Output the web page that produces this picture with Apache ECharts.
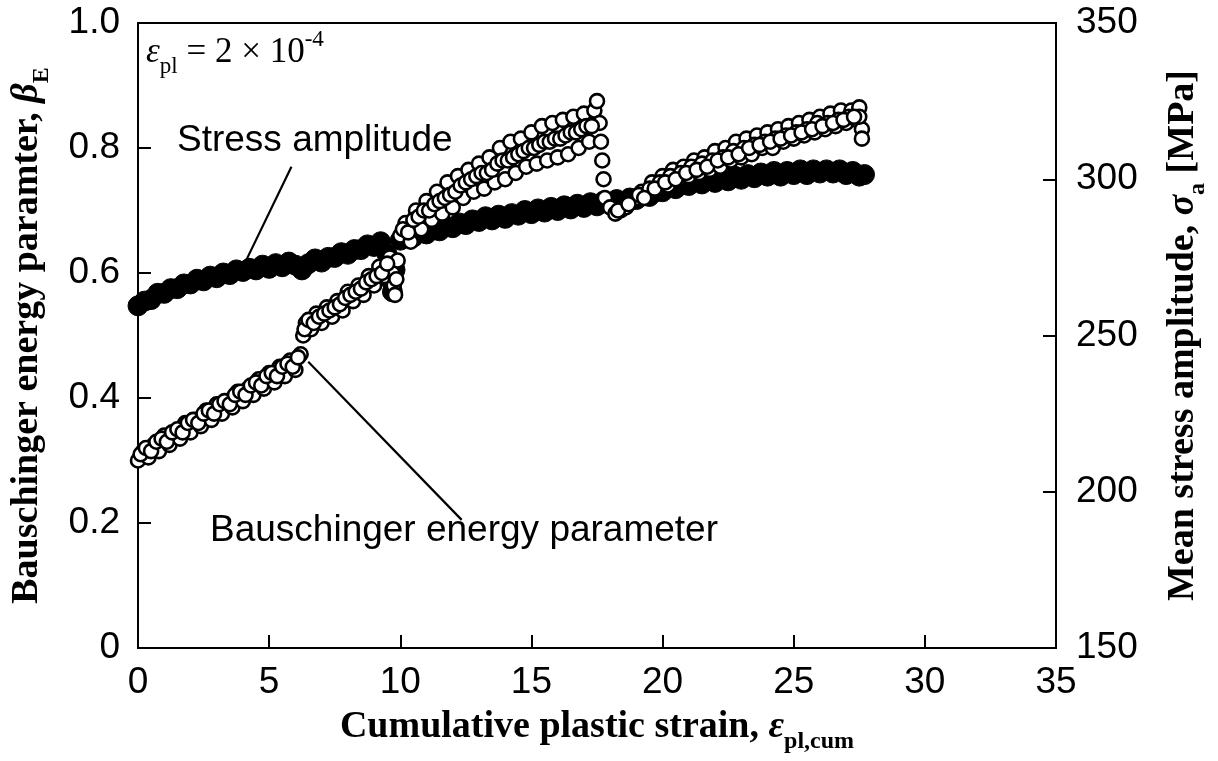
<!DOCTYPE html>
<html>
<head>
<meta charset="utf-8">
<script src="https://cdn.jsdelivr.net/npm/echarts@6/dist/echarts.min.js"></script>
<style>
html,body{margin:0;padding:0;background:#fff;}
#c{width:1218px;height:761px;}
</style>
</head>
<body>
<div id="c"></div>
<script>
// ---- Data ----
const xTicks = [0, 5, 10, 15, 20, 25, 30, 35];
const leftTicks = [0, 0.2, 0.4, 0.6, 0.8, 1.0];
const rightTicks = [150, 200, 250, 300, 350];

// Bauschinger energy parameter (open circles, left axis)
const bauschStrain = [
  0.0,0.2,0.4,0.6,0.8,1.0,1.2,1.4,1.6,1.8,2.0,2.2,2.4,2.6,2.8,3.0,3.2,3.4,3.6,3.8,
  4.0,4.2,4.4,4.6,4.8,5.0,5.2,5.4,5.6,5.8,6.0,6.2,6.3,6.4,6.6,6.8,7.0,7.2,7.4,7.6,
  7.8,8.0,8.2,8.4,8.6,8.8,9.0,9.2,9.4,9.6,9.7,9.75,9.8,9.85,9.9,10.0,10.2,10.4,10.6,10.8,
  11.0,11.2,11.4,11.6,11.8,12.0,12.2,12.4,12.6,12.8,13.0,13.2,13.4,13.6,13.8,14.0,14.2,14.4,14.6,14.8,
  15.0,15.2,15.4,15.6,15.8,16.0,16.2,16.4,16.6,16.8,17.0,17.2,17.4,17.5,17.6,17.65,17.7,17.75,17.8,18.0,
  18.2,18.4,18.6,18.8,19.0,19.2,19.4,19.6,19.8,20.0,20.2,20.4,20.6,20.8,21.0,21.2,21.4,21.6,21.8,22.0,
  22.2,22.4,22.6,22.8,23.0,23.2,23.4,23.6,23.8,24.0,24.2,24.4,24.6,24.8,25.0,25.2,25.4,25.6,25.8,26.0,
  26.2,26.4,26.6,26.8,27.0,27.2,27.4,27.5,27.6,27.6,
  10.1,10.3,10.5,10.7,10.9,11.1,11.3,11.5,11.7,11.9,12.1,12.3,12.5,12.7,12.9,13.1,13.3,13.5,13.7,13.9,
  14.1,14.3,14.5,14.7,14.9,15.1,15.3,15.5,15.7,15.9,16.1,16.3,16.5,16.7,16.9,17.1,17.3,
  19.1,19.5,19.9,20.3,20.7,21.1,21.5,21.9,22.3,22.7,23.1,23.5,23.9,24.3,24.7,25.1,25.5,25.9,26.3,26.7,
  27.1,27.5,
  0.1,0.3,0.5,0.7,0.9,1.1,1.3,1.5,1.7,1.9,2.1,2.3,2.5,2.7,2.9,3.1,3.3,3.5,3.7,3.9,
  4.1,4.3,4.5,4.7,4.9,5.1,5.3,5.5,5.7,5.9,6.1,6.35,6.5,6.7,6.9,7.1,7.3,7.5,7.7,7.9,
  8.1,8.3,8.5,8.7,8.9,9.1,9.3,9.5,
  18.3,18.7,19.3,19.7,20.1,20.5,20.9,21.3,21.7,22.1,22.5,22.9,23.3,23.7,24.1,24.5,24.9,25.3,25.7,26.1,
  26.5,26.9,27.3
];
const bauschBeta = [
  0.300,0.315,0.305,0.325,0.315,0.340,0.325,0.345,0.335,0.360,0.345,0.365,0.355,0.380,0.365,0.390,0.375,0.395,0.385,0.410,
  0.395,0.415,0.405,0.430,0.415,0.440,0.425,0.450,0.435,0.460,0.445,0.470,0.500,0.520,0.510,0.535,0.520,0.545,0.530,0.555,
  0.540,0.570,0.555,0.580,0.565,0.595,0.580,0.610,0.595,0.625,0.600,0.580,0.565,0.590,0.620,0.660,0.680,0.650,0.700,0.670,
  0.715,0.685,0.730,0.695,0.745,0.705,0.755,0.720,0.765,0.730,0.775,0.735,0.785,0.745,0.800,0.750,0.810,0.760,0.815,0.770,
  0.825,0.775,0.835,0.780,0.840,0.785,0.845,0.790,0.850,0.800,0.855,0.810,0.860,0.875,0.840,0.810,0.780,0.750,0.720,0.705,
  0.695,0.700,0.705,0.715,0.720,0.730,0.725,0.745,0.735,0.755,0.740,0.765,0.750,0.770,0.755,0.780,0.760,0.785,0.765,0.795,
  0.770,0.800,0.780,0.810,0.785,0.815,0.790,0.820,0.800,0.825,0.800,0.830,0.810,0.835,0.815,0.840,0.820,0.845,0.825,0.850,
  0.830,0.855,0.835,0.860,0.840,0.860,0.845,0.865,0.830,0.815,
  0.670,0.665,0.685,0.690,0.700,0.700,0.710,0.715,0.720,0.725,0.730,0.740,0.745,0.750,0.755,0.760,0.760,0.765,0.775,0.780,
  0.780,0.785,0.790,0.795,0.800,0.800,0.805,0.810,0.810,0.815,0.815,0.820,0.825,0.825,0.830,0.835,0.835,
  0.725,0.735,0.745,0.755,0.760,0.770,0.775,0.780,0.785,0.795,0.800,0.805,0.810,0.815,0.820,0.825,0.830,0.840,0.840,0.845,
  0.850,0.850,
  0.310,0.320,0.315,0.330,0.335,0.330,0.345,0.350,0.345,0.360,0.365,0.360,0.375,0.380,0.375,0.390,0.395,0.390,0.405,0.410,
  0.405,0.420,0.425,0.420,0.435,0.440,0.435,0.450,0.455,0.450,0.465,0.510,0.525,0.520,0.530,0.535,0.540,0.545,0.550,0.560,
  0.565,0.570,0.575,0.585,0.590,0.595,0.600,0.615,
  0.700,0.710,0.720,0.735,0.745,0.750,0.760,0.765,0.770,0.780,0.785,0.790,0.800,0.805,0.810,0.815,0.820,0.825,0.830,0.835,
  0.840,0.845,0.850
];

// Mean stress amplitude (filled circles, right axis, MPa)
const stressStrain = [
  0.0,0.25,0.5,0.75,1.0,1.25,1.5,1.75,2.0,2.25,2.5,2.75,3.0,3.25,3.5,3.75,4.0,4.25,4.5,4.75,
  5.0,5.25,5.5,5.75,6.0,6.25,6.5,6.75,7.0,7.25,7.5,7.75,8.0,8.25,8.5,8.75,9.0,9.25,9.5,9.6,
  9.7,9.8,10.0,10.25,10.5,10.75,11.0,11.25,11.5,11.75,12.0,12.25,12.5,12.75,13.0,13.25,13.5,13.75,14.0,14.25,
  14.5,14.75,15.0,15.25,15.5,15.75,16.0,16.25,16.5,16.75,17.0,17.25,17.5,17.75,18.0,18.25,18.5,18.75,19.0,19.25,
  19.5,19.75,20.0,20.25,20.5,20.75,21.0,21.25,21.5,21.75,22.0,22.25,22.5,22.75,23.0,23.25,23.5,23.75,24.0,24.25,
  24.5,24.75,25.0,25.25,25.5,25.75,26.0,26.25,26.5,26.75,27.0,27.25,27.5,27.7
];
const stressAmp = [
  259.5,261.0,261.5,263.5,263.5,265.0,265.0,266.5,266.5,268.0,267.5,269.0,268.5,270.0,269.5,271.0,270.5,271.5,271.0,272.5,
  271.5,273.0,272.0,273.5,272.5,271.0,273.0,274.5,273.5,275.0,275.0,276.5,276.0,277.5,277.5,279.0,278.5,280.0,276.0,268.0,
  264.0,271.0,280.5,282.0,281.5,283.0,282.5,284.0,283.5,285.0,284.5,286.0,285.5,287.0,286.5,288.0,287.0,288.5,287.5,289.0,
  288.5,290.0,289.0,290.5,289.5,291.0,290.0,291.5,290.5,292.0,291.0,292.5,291.5,293.0,292.0,293.5,292.5,294.0,293.5,295.0,
  294.5,296.0,296.0,297.5,297.0,298.5,298.0,299.5,298.5,300.0,299.0,300.5,299.5,301.0,300.0,301.5,300.5,302.0,301.0,302.5,
  301.0,302.5,301.5,303.0,301.5,303.0,302.0,303.0,302.0,303.0,301.5,302.5,301.0,301.5
];

// Annotation leader lines (data coordinates, left axis)
const stressLeader = [[5.85, 0.77], [4.04, 0.613]];
const bauschLeader = [[6.49, 0.458], [12.34, 0.205]];

const bauschData = bauschStrain.map((x, i) => [x, bauschBeta[i]]);
const stressData = stressStrain.map((x, i) => [x, stressAmp[i]]);

const sans = '"Liberation Sans", Arial, sans-serif';
const serif = '"Liberation Serif", "Times New Roman", serif';

function titleRich(size) {
  return {
    t: {fontFamily: serif, fontWeight: 'bold', fontSize: size, color: '#000', lineHeight: 54},
    i: {fontFamily: serif, fontWeight: 'bold', fontStyle: 'italic', fontSize: size, color: '#000', lineHeight: 54},
    s: {fontFamily: serif, fontWeight: 'bold', fontSize: Math.round(size * 0.62), color: '#000', lineHeight: 26, verticalAlign: 'bottom'}
  };
}

const chart = echarts.init(document.getElementById('c'), null, {renderer: 'canvas'});
chart.setOption({
  animation: false,
  backgroundColor: '#fff',
  grid: {left: 135, right: 155, top: 23, bottom: 113, show: true, borderColor: '#000', borderWidth: 2, backgroundColor: 'transparent'},
  xAxis: {
    type: 'value', min: xTicks[0], max: xTicks[xTicks.length - 1], interval: 5,
    axisLine: {show: true, lineStyle: {color: '#000', width: 2}},
    axisTick: {show: true, inside: true, length: 13, lineStyle: {color: '#000', width: 2}},
    axisLabel: {color: '#000', fontSize: 37, fontFamily: sans, margin: 16},
    splitLine: {show: false},
    name: '{t|Cumulative plastic strain, }{i|ε}{s|pl,cum}',
    nameLocation: 'middle', nameGap: 52,
    nameTextStyle: {rich: titleRich(38)}
  },
  yAxis: [{
    type: 'value', min: leftTicks[0], max: leftTicks[leftTicks.length - 1], interval: 0.2, position: 'left',
    axisLine: {show: true, lineStyle: {color: '#000', width: 2}},
    axisTick: {show: true, inside: true, length: 13, lineStyle: {color: '#000', width: 2}},
    axisLabel: {color: '#000', fontSize: 37, fontFamily: sans, margin: 18,
      formatter: v => (v === 0 ? '0' : v.toFixed(1))},
    splitLine: {show: false},
    name: '{t|Bauschinger energy paramter, }{i|β}{s|E}',
    nameLocation: 'middle', nameRotate: 90, nameGap: 84,
    nameTextStyle: {rich: titleRich(38)}
  }, {
    type: 'value', min: rightTicks[0], max: rightTicks[rightTicks.length - 1], interval: 50, position: 'right',
    axisLine: {show: true, lineStyle: {color: '#000', width: 2}},
    axisTick: {show: true, inside: true, length: 13, lineStyle: {color: '#000', width: 2}},
    axisLabel: {color: '#000', fontSize: 37, fontFamily: sans, margin: 20},
    splitLine: {show: false},
    name: '{t|Mean stress amplitude, }{i|σ}{s|a}{t| [MPa]}',
    nameLocation: 'middle', nameRotate: 90, nameGap: 100,
    nameTextStyle: {rich: titleRich(38)}
  }],
  series: [{
    name: 'Stress amplitude', type: 'scatter', yAxisIndex: 1, z: 2,
    symbol: 'circle', symbolSize: 20,
    itemStyle: {color: '#000', borderColor: '#000', borderWidth: 1, opacity: 1},
    data: stressData
  }, {
    name: 'Bauschinger energy parameter', type: 'scatter', yAxisIndex: 0, z: 3,
    symbol: 'circle', symbolSize: 14,
    itemStyle: {color: '#fff', borderColor: '#000', borderWidth: 2.6, opacity: 1},
    data: bauschData,
    markLine: {
      silent: true, symbol: ['none', 'none'], animation: false,
      label: {show: false},
      lineStyle: {color: '#000', width: 2.2, type: 'solid', opacity: 1},
      data: [
        [{coord: stressLeader[0]}, {coord: stressLeader[1]}],
        [{coord: bauschLeader[0]}, {coord: bauschLeader[1]}]
      ]
    }
  }],
  graphic: [{
    type: 'text', left: 177, top: 122,
    style: {text: 'Stress amplitude', font: '37px ' + sans, fill: '#000'}
  }, {
    type: 'text', left: 210, top: 512,
    style: {text: 'Bauschinger energy parameter', font: '37px ' + sans, fill: '#000'}
  }, {
    type: 'text', left: 146, top: 28,
    style: {
      text: '{i|ε}{s|pl}{t| = 2 × 10}{p|-4}',
      rich: {
        t: {fontFamily: serif, fontSize: 35, color: '#000', lineHeight: 50},
        i: {fontFamily: serif, fontStyle: 'italic', fontSize: 35, color: '#000', lineHeight: 50},
        s: {fontFamily: serif, fontSize: 23, color: '#000', lineHeight: 23, verticalAlign: 'bottom'},
        p: {fontFamily: serif, fontSize: 23, color: '#000', lineHeight: 23, verticalAlign: 'top'}
      }
    }
  }]
});
</script>
</body>
</html>
